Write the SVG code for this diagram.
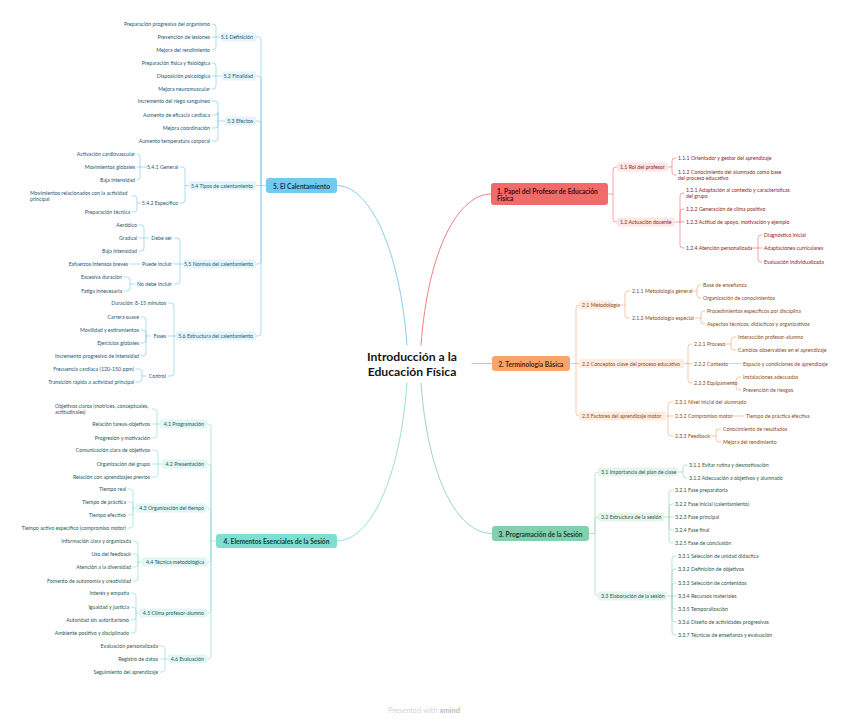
<svg xmlns="http://www.w3.org/2000/svg" width="848" height="721" viewBox="0 0 848 721">
<style>
text{font-family:Lato,"Noto Sans","DejaVu Sans",sans-serif}
.s{font-size:5.25px;dominant-baseline:central}
.e{text-anchor:end}
.m{font-size:6.6px;font-weight:700;dominant-baseline:central;text-anchor:middle}
.t{font-size:12.2px;font-weight:700;text-anchor:middle;fill:#151515}
.k5{fill:#1d5874}.k4{fill:#1f5a55}.k1{fill:#8c2424}.k2{fill:#8a4a1c}.k3{fill:#2c5a47}
.c{fill:none;stroke-width:.7;stroke-linecap:round;stroke-linejoin:round}
.w{stroke-width:1}
.c5{stroke:#86CFEA}.c4{stroke:#9ADFD6}.c1{stroke:#EF8080}.c2{stroke:#F4B088}.c3{stroke:#9FD5BE}
.r5{fill:#E4F4FB}.r4{fill:#E2F6F3}.r1{fill:#FCE6E6}.r2{fill:#FDEDE1}.r3{fill:#E6F4EE}
</style>
<rect width="848" height="721" fill="#fff"/>
<g id="connectors">
<path class="c w c5" d="M407 345 C400 250 370 185.5 337 185.5"/>
<path class="c w c1" d="M421 345 C428 250 458 194 491 194"/>
<path class="c w c2" d="M472 363.5 H492"/>
<path class="c w c4" d="M407 383 C400 480 370 541 337 541"/>
<path class="c w c3" d="M421 383 C428 480 458 533.5 492 533.5"/>
<path class="c c5" d="M266 185.5 H256 M261 185.5 V40 Q261 37 258 37 H256 M261 185.5 V79 Q261 76 258 76 H256 M261 185.5 V124 Q261 121 258 121 H256 M261 185.5 V261 Q261 264 258 264 H256 M261 185.5 V333 Q261 336 258 336 H256
M221 37 H212 M216 37 V27 Q216 24 213 24 H212 M216 37 V47 Q216 50 213 50 H212
M222 76 H212 M216 76 V66 Q216 63 213 63 H212 M216 76 V86 Q216 89 213 89 H212
M225 121 H218 V104 Q218 101 215 101 H212 M218 121 V112 Q218 115 215 115 H212 M218 121 V125 Q218 128 215 128 H212 M218 121 V138 Q218 141 215 141 H212
M190 185.5 H185 V170 Q185 167 182 167 H180 M185 185.5 V200 Q185 203 182 203 H180
M147 167 H137 M140 167 V157 Q140 154 137 154 M140 167 V177 Q140 180 137 180
M141 203 H137 V199 Q137 196 134 196 H132 M137 203 V209 Q137 212 134 212 H132
M184 264 H174 M180 264 V241 Q180 238 177 238 H174 M180 264 V281 Q180 284 177 284 H174
M149 238 H139 M144 238 V228 Q144 225 141 225 H139 M144 238 V248 Q144 251 141 251 H139
M140 264 H130
M135 284 H130 V280 Q130 277 127 277 H124 M130 284 V288 Q130 291 127 291 H124
M177 336 H168 M174 336 V306 Q174 303 171 303 H168 M174 336 V373 Q174 376 171 376 H168
M150 336 H146 V320 Q146 317 143 317 H141 M146 336 V333 Q146 330 143 330 H141 M146 336 V340 Q146 343 143 343 H141 M146 336 V353 Q146 356 143 356 H141
M146 376 H142 V372 Q142 369 139 369 H136 M142 376 V379 Q142 382 139 382 H136"/>
<path class="c c4" d="M216 541 H211 M211 541 V427 Q211 424 208 424 H207 M211 541 V467 Q211 464 208 464 H207 M211 541 V511 Q211 508 208 508 H207 M211 541 V559 Q211 562 208 562 H207 M211 541 V610 Q211 613 208 613 H207 M211 541 V656 Q211 659 208 659 H207
M161 424 H152 M157 424 V412 Q157 409 154 409 H152 M157 424 V435 Q157 438 154 438 H152
M163 464 H152 M158 464 V453 Q158 450 155 450 H152 M158 464 V474 Q158 477 155 477 H152
M136 508 H133 V492 Q133 489 130 489 H128 M133 508 V505 Q133 502 130 502 H128 M133 508 V512 Q133 515 130 515 H128 M133 508 V525 Q133 528 130 528 H128
M142 562 H138 V544 Q138 541 135 541 H133 M138 562 V557 Q138 554 135 554 H133 M138 562 V564 Q138 567 135 567 H133 M138 562 V578 Q138 581 135 581 H133
M139 613 H136 V596 Q136 593 133 593 H131 M136 613 V610 Q136 607 133 607 H131 M136 613 V617 Q136 620 133 620 H131 M136 613 V630 Q136 633 133 633 H131
M168 659 H160 M165 659 V649 Q165 646 162 646 H160 M165 659 V669 Q165 672 162 672 H160"/>
<path class="c c1" d="M608 194 H613 V170 Q613 167 616 167 H617 M613 194 V219 Q613 222 616 222 H617
M667 167 H672 V161 Q672 158 675 158 H676 M672 167 V172 Q672 175 675 175 H676
M675 222 H684 M680 222 V196 Q680 193 683 193 H684 M680 222 V212 Q680 209 683 209 H684 M680 222 V245 Q680 248 683 248 H684
M752 248 H762 M758 248 V238 Q758 235 761 235 H762 M758 248 V259 Q758 262 761 262 H762"/>
<path class="c c2" d="M570 363.5 H579 M576 363.5 V308 Q576 305 579 305 M576 363.5 V413 Q576 416 579 416
M612 305 H625 V294 Q625 291 628 291 H630 M625 305 V315 Q625 318 628 318 H630
M691 291 H697 V288 Q697 285 700 285 H701 M697 291 V295 Q697 298 700 298 H701
M695 318 H701 V314 Q701 311 704 311 H705 M701 318 V321 Q701 324 704 324 H705
M684 363.5 H692 M688 363.5 V347 Q688 344 691 344 H692 M688 363.5 V380 Q688 383 691 383 H692
M725 344 H731 V340 Q731 337 734 337 H736 M731 344 V347 Q731 350 734 350 H736
M729 363.5 H741
M730 383 H736 V380 Q736 377 739 377 H741 M736 383 V387 Q736 390 739 390 H741
M665 416 H673 M668 416 V405 Q668 402 671 402 H673 M668 416 V433 Q668 436 671 436 H673
M732 416 H744
M709 436 H716 V432 Q716 429 719 429 H721 M716 436 V439 Q716 442 719 442 H721"/>
<path class="c c3" d="M589 533.5 H595 V475 Q595 472 598 472 M595 533.5 V520 Q595 517 598 517 M595 533.5 V593 Q595 596 598 596
M678 472 H683 V468 Q683 465 686 465 H687 M683 472 V475 Q683 478 686 478 H687
M664 517 H673 M669 517 V493 Q669 490 672 490 H673 M669 517 V507 Q669 504 672 504 H673 M669 517 V527 Q669 530 672 530 H673 M669 517 V540 Q669 543 672 543 H673
M667 596 H676 M672 596 V559 Q672 556 675 556 H676 M672 596 V572 Q672 569 675 569 H676 M672 596 V586 Q672 583 675 583 H676 M672 596 V606 Q672 609 675 609 H676 M672 596 V619 Q672 622 675 622 H676 M672 596 V632 Q672 635 675 635 H676"/>
</g>
<g id="center"><text class="t" x="412" y="360.5">Introducción a la</text><text class="t" x="412" y="375.5">Educación Física</text></g>

<g id="n5"><rect x="266" y="178" width="71" height="15" rx="3" fill="#74C9F0"/><text class="m" x="301.5" y="185.5" fill="#0f3550">5. El Calentamiento</text></g>
<g id="n5-1"><rect class="r5" x="221" y="32.5" width="35" height="9" rx="2"/><text class="s e k5" x="253" y="37">5.1 Definición</text></g>
<g id="n5-1a"><text class="s e k5" x="210" y="24">Preparación progresiva del organismo</text></g>
<g id="n5-1b"><text class="s e k5" x="210" y="37">Prevención de lesiones</text></g>
<g id="n5-1c"><text class="s e k5" x="210" y="50">Mejora del rendimiento</text></g>
<g id="n5-2"><rect class="r5" x="222" y="71.5" width="34" height="9" rx="2"/><text class="s e k5" x="253" y="76">5.2 Finalidad</text></g>
<g id="n5-2a"><text class="s e k5" x="210" y="63">Preparación física y fisiológica</text></g>
<g id="n5-2b"><text class="s e k5" x="210" y="76">Disposición psicológica</text></g>
<g id="n5-2c"><text class="s e k5" x="210" y="89">Mejora neuromuscular</text></g>
<g id="n5-3"><rect class="r5" x="225" y="116.5" width="31" height="9" rx="2"/><text class="s e k5" x="253" y="121">5.3 Efectos</text></g>
<g id="n5-3a"><text class="s e k5" x="210" y="101">Incremento del riego sanguíneo</text></g>
<g id="n5-3b"><text class="s e k5" x="210" y="115">Aumento de eficacia cardiaca</text></g>
<g id="n5-3c"><text class="s e k5" x="210" y="128">Mejora coordinación</text></g>
<g id="n5-3d"><text class="s e k5" x="210" y="141">Aumento temperatura corporal</text></g>
<g id="n5-4"><rect class="r5" x="189" y="181" width="67" height="9" rx="2"/><text class="s e k5" x="253" y="185.5">5.4 Tipos de calentamiento</text></g>
<g id="n5-4-1"><text class="s e k5" x="178" y="167">5.4.1 General</text></g>
<g id="n5-4-1a"><text class="s e k5" x="135" y="154">Activación cardiovascular</text></g>
<g id="n5-4-1b"><text class="s e k5" x="135" y="167">Movimientos globales</text></g>
<g id="n5-4-1c"><text class="s e k5" x="135" y="180">Baja intensidad</text></g>
<g id="n5-4-2"><text class="s e k5" x="178" y="203">5.4.2 Específico</text></g>
<g id="n5-4-2a"><text class="s k5" x="30" y="193">Movimientos relacionados con la actividad</text><text class="s k5" x="30" y="199">principal</text></g>
<g id="n5-4-2b"><text class="s e k5" x="130" y="212">Preparación técnica</text></g>
<g id="n5-5"><rect class="r5" x="183" y="259.5" width="73" height="9" rx="2"/><text class="s e k5" x="253" y="264">5.5 Normas del calentamiento</text></g>
<g id="n5-5-1"><text class="s e k5" x="172" y="238">Debe ser</text></g>
<g id="n5-5-1a"><text class="s e k5" x="137" y="225">Aeróbico</text></g>
<g id="n5-5-1b"><text class="s e k5" x="137" y="238">Gradual</text></g>
<g id="n5-5-1c"><text class="s e k5" x="137" y="251">Baja intensidad</text></g>
<g id="n5-5-2"><text class="s e k5" x="172" y="264">Puede incluir</text></g>
<g id="n5-5-2a"><text class="s e k5" x="128" y="264">Esfuerzos intensos breves</text></g>
<g id="n5-5-3"><text class="s e k5" x="172" y="284">No debe incluir</text></g>
<g id="n5-5-3a"><text class="s e k5" x="122" y="277">Excesiva duración</text></g>
<g id="n5-5-3b"><text class="s e k5" x="122" y="291">Fatiga innecesaria</text></g>
<g id="n5-6"><rect class="r5" x="176" y="331.5" width="80" height="9" rx="2"/><text class="s e k5" x="253" y="336">5.6 Estructura del calentamiento</text></g>
<g id="n5-6-1"><text class="s e k5" x="166" y="303">Duración: 8-15 minutos</text></g>
<g id="n5-6-2"><text class="s e k5" x="166" y="336">Fases</text></g>
<g id="n5-6-2a"><text class="s e k5" x="139" y="317">Carrera suave</text></g>
<g id="n5-6-2b"><text class="s e k5" x="139" y="330">Movilidad y estiramientos</text></g>
<g id="n5-6-2c"><text class="s e k5" x="139" y="343">Ejercicios globales</text></g>
<g id="n5-6-2d"><text class="s e k5" x="139" y="356">Incremento progresivo de intensidad</text></g>
<g id="n5-6-3"><text class="s e k5" x="166" y="376">Control</text></g>
<g id="n5-6-3a"><text class="s e k5" x="134" y="369">Frecuencia cardiaca (120-150 ppm)</text></g>
<g id="n5-6-3b"><text class="s e k5" x="134" y="382">Transición rápida a actividad principal</text></g>

<g id="n4"><rect x="216" y="534" width="121" height="14" rx="3" fill="#80DDD2"/><text class="m" x="276.5" y="541" fill="#0e3d39">4. Elementos Esenciales de la Sesión</text></g>
<g id="n4-1"><rect class="r4" x="160" y="419.5" width="47" height="9" rx="2"/><text class="s e k4" x="204" y="424">4.1 Programación</text></g>
<g id="n4-1a"><text class="s k4" x="55" y="406">Objetivos claros (motrices, conceptuales,</text><text class="s k4" x="55" y="412">actitudinales)</text></g>
<g id="n4-1b"><text class="s e k4" x="150" y="424">Relación tareas-objetivos</text></g>
<g id="n4-1c"><text class="s e k4" x="150" y="438">Progresión y motivación</text></g>
<g id="n4-2"><rect class="r4" x="162" y="459.5" width="45" height="9" rx="2"/><text class="s e k4" x="204" y="464">4.2 Presentación</text></g>
<g id="n4-2a"><text class="s e k4" x="150" y="450">Comunicación clara de objetivos</text></g>
<g id="n4-2b"><text class="s e k4" x="150" y="464">Organización del grupo</text></g>
<g id="n4-2c"><text class="s e k4" x="150" y="477">Relación con aprendizajes previos</text></g>
<g id="n4-3"><rect class="r4" x="136" y="503.5" width="71" height="9" rx="2"/><text class="s e k4" x="204" y="508">4.3 Organización del tiempo</text></g>
<g id="n4-3a"><text class="s e k4" x="126" y="489">Tiempo real</text></g>
<g id="n4-3b"><text class="s e k4" x="126" y="502">Tiempo de práctica</text></g>
<g id="n4-3c"><text class="s e k4" x="126" y="515">Tiempo efectivo</text></g>
<g id="n4-3d"><text class="s e k4" x="126" y="528">Tiempo activo específico (compromiso motor)</text></g>
<g id="n4-4"><rect class="r4" x="142" y="557.5" width="65" height="9" rx="2"/><text class="s e k4" x="204" y="562">4.4 Técnica metodológica</text></g>
<g id="n4-4a"><text class="s e k4" x="131" y="541">Información clara y organizada</text></g>
<g id="n4-4b"><text class="s e k4" x="131" y="554">Uso del feedback</text></g>
<g id="n4-4c"><text class="s e k4" x="131" y="567">Atención a la diversidad</text></g>
<g id="n4-4d"><text class="s e k4" x="131" y="581">Fomento de autonomía y creatividad</text></g>
<g id="n4-5"><rect class="r4" x="139" y="608.5" width="68" height="9" rx="2"/><text class="s e k4" x="204" y="613">4.5 Clima profesor-alumno</text></g>
<g id="n4-5a"><text class="s e k4" x="129" y="593">Interés y empatía</text></g>
<g id="n4-5b"><text class="s e k4" x="129" y="607">Igualdad y justicia</text></g>
<g id="n4-5c"><text class="s e k4" x="129" y="620">Autoridad sin autoritarismo</text></g>
<g id="n4-5d"><text class="s e k4" x="129" y="633">Ambiente positivo y disciplinado</text></g>
<g id="n4-6"><rect class="r4" x="168" y="654.5" width="39" height="9" rx="2"/><text class="s e k4" x="204" y="659">4.6 Evaluación</text></g>
<g id="n4-6a"><text class="s e k4" x="158" y="646">Evaluación personalizada</text></g>
<g id="n4-6b"><text class="s e k4" x="158" y="659">Registro de datos</text></g>
<g id="n4-6c"><text class="s e k4" x="158" y="672">Seguimiento del aprendizaje</text></g>

<g id="n1"><rect x="491" y="183" width="117" height="22" rx="3" fill="#F26B6B"/><text x="497" y="190.5" font-size="6.6" font-weight="700" dominant-baseline="central" fill="#3d0a0a">1. Papel del Profesor de Educación</text><text x="497" y="198" font-size="6.6" font-weight="700" dominant-baseline="central" fill="#3d0a0a">Física</text></g>
<g id="n1-1"><rect class="r1" x="617" y="162.5" width="51" height="9" rx="2"/><text class="s k1" x="620" y="167">1.1 Rol del profesor</text></g>
<g id="n1-1-1"><text class="s k1" x="678" y="158">1.1.1 Orientador y gestor del aprendizaje</text></g>
<g id="n1-1-2"><text class="s k1" x="678" y="172">1.1.2 Conocimiento del alumnado como base</text><text class="s k1" x="678" y="178">del proceso educativo</text></g>
<g id="n1-2"><rect class="r1" x="617" y="217.5" width="58" height="9" rx="2"/><text class="s k1" x="620" y="222">1.2 Actuación docente</text></g>
<g id="n1-2-1"><text class="s k1" x="686" y="190">1.2.1 Adaptación al contexto y características</text><text class="s k1" x="686" y="196">del grupo</text></g>
<g id="n1-2-2"><text class="s k1" x="686" y="209">1.2.2 Generación de clima positivo</text></g>
<g id="n1-2-3"><text class="s k1" x="686" y="222">1.2.3 Actitud de apoyo, motivación y ejemplo</text></g>
<g id="n1-2-4"><text class="s k1" x="686" y="248">1.2.4 Atención personalizada</text></g>
<g id="n1-2-4a"><text class="s k1" x="764" y="235">Diagnóstico inicial</text></g>
<g id="n1-2-4b"><text class="s k1" x="764" y="248">Adaptaciones curriculares</text></g>
<g id="n1-2-4c"><text class="s k1" x="764" y="262">Evaluación individualizada</text></g>

<g id="n2"><rect x="492" y="356" width="78" height="15" rx="3" fill="#F7A56D"/><text class="m" x="531" y="363.5" fill="#4d2305">2. Terminología Básica</text></g>
<g id="n2-1"><rect class="r2" x="579" y="300.5" width="34" height="9" rx="2"/><text class="s k2" x="582" y="305">2.1 Metodología</text></g>
<g id="n2-1-1"><text class="s k2" x="632" y="291">2.1.1 Metodología general</text></g>
<g id="n2-1-1a"><text class="s k2" x="703" y="285">Base de enseñanza</text></g>
<g id="n2-1-1b"><text class="s k2" x="703" y="298">Organización de conocimientos</text></g>
<g id="n2-1-2"><text class="s k2" x="632" y="318">2.1.2 Metodología especial</text></g>
<g id="n2-1-2a"><text class="s k2" x="707" y="311">Procedimientos específicos por disciplina</text></g>
<g id="n2-1-2b"><text class="s k2" x="707" y="324">Aspectos técnicos, didácticos y organizativos</text></g>
<g id="n2-2"><rect class="r2" x="579" y="359" width="105" height="9" rx="2"/><text class="s k2" x="582" y="363.5">2.2 Conceptos clave del proceso educativo</text></g>
<g id="n2-2-1"><text class="s k2" x="694" y="344">2.2.1 Proceso</text></g>
<g id="n2-2-1a"><text class="s k2" x="738" y="337">Interacción profesor-alumno</text></g>
<g id="n2-2-1b"><text class="s k2" x="738" y="350">Cambios observables en el aprendizaje</text></g>
<g id="n2-2-2"><text class="s k2" x="694" y="363.5">2.2.2 Contexto</text></g>
<g id="n2-2-2a"><text class="s k2" x="743" y="363.5">Espacio y condiciones de aprendizaje</text></g>
<g id="n2-2-3"><text class="s k2" x="694" y="383">2.2.3 Equipamento</text></g>
<g id="n2-2-3a"><text class="s k2" x="743" y="377">Instalaciones adecuadas</text></g>
<g id="n2-2-3b"><text class="s k2" x="743" y="390">Prevención de riesgos</text></g>
<g id="n2-3"><rect class="r2" x="579" y="411.5" width="87" height="9" rx="2"/><text class="s k2" x="582" y="416">2.3 Factores del aprendizaje motor</text></g>
<g id="n2-3-1"><text class="s k2" x="675" y="402">2.3.1 Nivel inicial del alumnado</text></g>
<g id="n2-3-2"><text class="s k2" x="675" y="416">2.3.2 Compromiso motor</text></g>
<g id="n2-3-2a"><text class="s k2" x="746" y="416">Tiempo de práctica efectiva</text></g>
<g id="n2-3-3"><text class="s k2" x="675" y="436">2.3.3 Feedback</text></g>
<g id="n2-3-3a"><text class="s k2" x="723" y="429">Conocimiento de resultados</text></g>
<g id="n2-3-3b"><text class="s k2" x="723" y="442">Mejora del rendimiento</text></g>

<g id="n3"><rect x="492" y="526" width="97" height="15" rx="3" fill="#84CFAD"/><text class="m" x="540.5" y="533.5" fill="#123d2b">3. Programación de la Sesión</text></g>
<g id="n3-1"><rect class="r3" x="598" y="467.5" width="80" height="9" rx="2"/><text class="s k3" x="601" y="472">3.1 Importancia del plan de clase</text></g>
<g id="n3-1-1"><text class="s k3" x="689" y="465">3.1.1 Evitar rutina y desmotivación</text></g>
<g id="n3-1-2"><text class="s k3" x="689" y="478">3.1.2 Adecuación a objetivos y alumnado</text></g>
<g id="n3-2"><rect class="r3" x="598" y="512.5" width="66" height="9" rx="2"/><text class="s k3" x="601" y="517">3.2 Estructura de la sesión</text></g>
<g id="n3-2-1"><text class="s k3" x="675" y="490">3.2.1 Fase preparatoria</text></g>
<g id="n3-2-2"><text class="s k3" x="675" y="504">3.2.2 Fase inicial (calentamiento)</text></g>
<g id="n3-2-3"><text class="s k3" x="675" y="517">3.2.3 Fase principal</text></g>
<g id="n3-2-4"><text class="s k3" x="675" y="530">3.2.4 Fase final</text></g>
<g id="n3-2-5"><text class="s k3" x="675" y="543">3.2.5 Fase de conclusión</text></g>
<g id="n3-3"><rect class="r3" x="598" y="591.5" width="69" height="9" rx="2"/><text class="s k3" x="601" y="596">3.3 Elaboración de la sesión</text></g>
<g id="n3-3-1"><text class="s k3" x="678" y="556">3.3.1 Selección de unidad didáctica</text></g>
<g id="n3-3-2"><text class="s k3" x="678" y="569">3.3.2 Definición de objetivos</text></g>
<g id="n3-3-3"><text class="s k3" x="678" y="583">3.3.3 Selección de contenidos</text></g>
<g id="n3-3-4"><text class="s k3" x="678" y="596">3.3.4 Recursos materiales</text></g>
<g id="n3-3-5"><text class="s k3" x="678" y="609">3.3.5 Temporalización</text></g>
<g id="n3-3-6"><text class="s k3" x="678" y="622">3.3.6 Diseño de actividades progresivas</text></g>
<g id="n3-3-7"><text class="s k3" x="678" y="635">3.3.7 Técnicas de enseñanza y evaluación</text></g>

<g id="footer"><text x="424" y="713" font-size="7.5" text-anchor="middle" fill="#d4d4d4">Presented with <tspan font-weight="700" fill="#bcbcbc">xmind</tspan></text></g>
</svg>
